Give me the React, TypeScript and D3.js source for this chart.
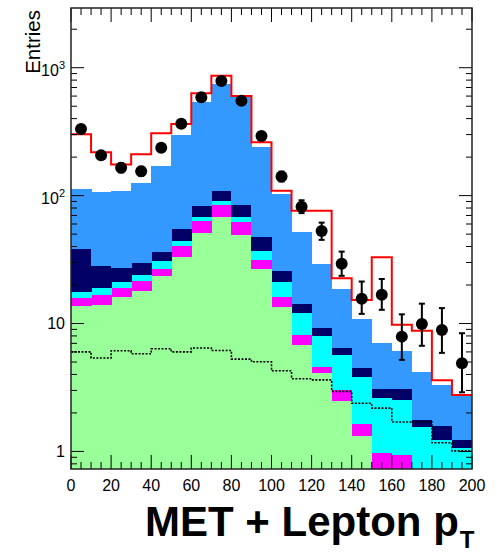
import React from 'react';
import * as d3 from 'd3';

// bin low edges (GeV), 10 GeV wide
const binLow = [0, 10, 20, 30, 40, 50, 60, 70, 80, 90, 100, 110, 120, 130, 140, 150, 160, 170, 180, 190];
const binWidth = 10;

// stacked backgrounds, bottom to top (per-process contributions)
const greenVals = [13.7, 14.0, 16.1, 18.0, 23.4, 33.0, 50.8, 67.8, 49.3, 26.6, 13.4, 6.8, 4.1, 2.5, 1.33, 0.5, 0.4, 0.3, 0.2, 0.2];
const magentaVals = [2.0, 2.8, 2.7, 3.4, 3.5, 7.5, 13.0, 17.3, 12.7, 4.9, 2.6, 1.36, 0.51, 0.53, 0.32, 0.47, 0.53, 0.3, 0.3, 0.3];
const cyanVals = [1.8, 2.0, 2.3, 2.6, 3.8, 3.8, 4.0, 5.3, 5.8, 5.5, 5.1, 3.84, 3.39, 2.67, 2.18, 1.67, 1.61, 0.95, 0.72, 0.56];
const navyVals = [20.6, 9.4, 6.1, 5.6, 5.6, 10.3, 15.3, 18.4, 17.3, 10.3, 4.7, 2.3, 1.3, 0.79, 0.7, 0.43, 0.53, 0.22, 0.35, 0.17];
const blueVals = [74, 79, 82, 96, 133, 242, 459, 637, 508, 194, 78, 37.5, 19.8, 12.1, 6.3, 4.0, 3.0, 2.4, 1.75, 1.5];

// red total histogram
const totalVals = [302, 218, 175, 211, 307, 363, 631, 866, 600, 261, 109, 76, 76, 22.6, 15.3, 33, 9.8, 8.8, 3.6, 2.76];
// dotted histogram
const dottedVals = [6.0, 5.37, 6.12, 5.8, 6.35, 6.0, 6.43, 6.15, 5.27, 5.02, 4.27, 3.7, 3.63, 2.95, 2.38, 2.18, 1.7, 1.7, 1.17, 1.01];

// data points
const dataVals = [332, 207, 165, 155, 237, 365, 587, 787, 552, 293, 141, 82, 53, 29.3, 15.6, 16.8, 7.9, 9.9, 8.9, 4.9];
const errDown = [18, 14, 13, 12, 15, 19, 24, 28, 23, 17, 12, 9, 7.9, 5.7, 3.7, 4.0, 2.7, 3.2, 3.0, 2.0];
const errUp = [19, 15, 14, 13, 16, 20, 25, 29, 24, 18, 13, 10, 8.5, 7.2, 5.7, 5.5, 3.9, 4.4, 4.3, 3.5];

const xTickLabels = [0, 20, 40, 60, 80, 100, 120, 140, 160, 180, 200];
const yLabelVals = [1, 10, 100, 1000];
const yLabelBase = ['1', '10', '10', '10'];
const yLabelExp = ['', '', '2', '3'];

const layerKeys = ['green', 'magenta', 'cyan', 'navy', 'blue'];
const layerColors: Record<string, string> = {
  green: '#99ff99',
  magenta: '#ff00ff',
  cyan: '#00ffff',
  navy: '#000066',
  blue: '#3399ff',
};

const FONT = '"Liberation Sans", Arial, Helvetica, sans-serif';

export default function App() {
  const width = 497;
  const height = 555;
  const frame = { left: 71, right: 472, top: 8, bottom: 469 };
  const yMin = 0.729;
  const yMax = 2930;

  const x = d3.scaleLinear().domain([0, 200]).range([frame.left, frame.right]);
  const y = d3.scaleLog().domain([yMin, yMax]).range([frame.bottom, frame.top]);
  const yc = (v: number) => y(Math.min(Math.max(v, yMin), yMax));

  const rows = binLow.map((lo, i) => ({
    lo,
    green: greenVals[i],
    magenta: magentaVals[i],
    cyan: cyanVals[i],
    navy: navyVals[i],
    blue: blueVals[i],
  }));
  const series = d3.stack<any>().keys(layerKeys)(rows);

  const stepLine = d3
    .line<[number, number]>()
    .x((d) => x(d[0]))
    .y((d) => yc(d[1]))
    .curve(d3.curveStepAfter);
  const stepPoints = (vals: number[]): [number, number][] => [
    ...binLow.map((lo, i) => [lo, vals[i]] as [number, number]),
    [binLow[binLow.length - 1] + binWidth, vals[vals.length - 1]],
  ];

  // axis ticks
  const xMinor = d3.range(0, 201, 5);
  const yTicks: { v: number; major: boolean }[] = [];
  for (let e = -1; e <= 3; e++) {
    for (let m = 1; m <= 9; m++) {
      const v = m * Math.pow(10, e);
      if (v >= yMin && v <= yMax) yTicks.push({ v, major: m === 1 });
    }
  }

  return (
    <svg
      width={width}
      height={height}
      style={{ position: 'absolute', left: 0, top: 0, background: '#fff' }}
      fontFamily={FONT}
    >
      <defs>
        <clipPath id="frameClip">
          <rect x={frame.left} y={frame.top} width={frame.right - frame.left} height={frame.bottom - frame.top} />
        </clipPath>
      </defs>

      <g clipPath="url(#frameClip)">
        {/* stacked backgrounds */}
        {series.map((s) => (
          <g key={s.key} fill={layerColors[s.key]} shapeRendering="crispEdges">
            {s.map((d, i) => {
              const y0 = yc(d[0]);
              const y1 = yc(d[1]);
              if (y0 - y1 <= 0) return null;
              return (
                <rect
                  key={i}
                  x={x(binLow[i])}
                  y={y1}
                  width={x(binLow[i] + binWidth) - x(binLow[i]) + 0.5}
                  height={y0 - y1}
                />
              );
            })}
          </g>
        ))}

        {/* dotted histogram */}
        <path
          d={stepLine(stepPoints(dottedVals)) || ''}
          fill="none"
          stroke="#000"
          strokeWidth={1.6}
          strokeDasharray="2,1.5"
        />

        {/* red total */}
        <path d={stepLine(stepPoints(totalVals)) || ''} fill="none" stroke="#ff0000" strokeWidth={2} />

        {/* data with error bars */}
        {dataVals.map((v, i) => {
          const cx = x(binLow[i] + binWidth / 2);
          const yHi = yc(v + errUp[i]);
          const yLo = yc(v - errDown[i]);
          return (
            <g key={i}>
              <line x1={cx} x2={cx} y1={yHi} y2={yLo} stroke="#000" strokeWidth={2} />
              <line x1={cx - 3} x2={cx + 3} y1={yHi} y2={yHi} stroke="#000" strokeWidth={2} />
              <line x1={cx - 3} x2={cx + 3} y1={yLo} y2={yLo} stroke="#000" strokeWidth={2} />
              <circle cx={cx} cy={yc(v)} r={6} fill="#000" />
            </g>
          );
        })}
      </g>

      {/* ticks */}
      <g stroke="#000" strokeWidth={1}>
        {xMinor.map((t) => {
          const len = t % 20 === 0 ? 14 : 7;
          return (
            <g key={t}>
              <line x1={x(t)} x2={x(t)} y1={frame.bottom} y2={frame.bottom - len} />
              <line x1={x(t)} x2={x(t)} y1={frame.top} y2={frame.top + len} />
            </g>
          );
        })}
        {yTicks.map((t, i) => {
          const len = t.major ? 13 : 6;
          return (
            <g key={i}>
              <line x1={frame.left} x2={frame.left + len} y1={y(t.v)} y2={y(t.v)} />
              <line x1={frame.right} x2={frame.right - len} y1={y(t.v)} y2={y(t.v)} />
            </g>
          );
        })}
      </g>

      {/* frame */}
      <rect
        x={frame.left}
        y={frame.top}
        width={frame.right - frame.left}
        height={frame.bottom - frame.top}
        fill="none"
        stroke="#222"
        strokeWidth={1.5}
      />

      {/* x tick labels */}
      <g fontSize={16} textAnchor="middle" fill="#000">
        {xTickLabels.map((t) => (
          <text key={t} x={x(t)} y={491}>
            {t}
          </text>
        ))}
      </g>

      {/* y tick labels */}
      <g fontSize={16} textAnchor="end" fill="#000">
        {yLabelVals.map((v, i) => (
          <text key={v} x={65} y={y(v) + (yLabelExp[i] ? 8 : 5.8)}>
            {yLabelBase[i]}
            {yLabelExp[i] ? (
              <tspan dy={-7} fontSize={11}>
                {yLabelExp[i]}
              </tspan>
            ) : null}
          </text>
        ))}
      </g>

      {/* axis titles */}
      <text transform="translate(40,10) rotate(-90)" textAnchor="end" fontSize={20.5} fill="#000">
        Entries
      </text>
      <text x={145} y={536} fontSize={42} fontWeight="bold" fill="#000">
        MET + Lepton p
        <tspan dx={1} dy={12} fontSize={24}>
          T
        </tspan>
      </text>
    </svg>
  );
}
